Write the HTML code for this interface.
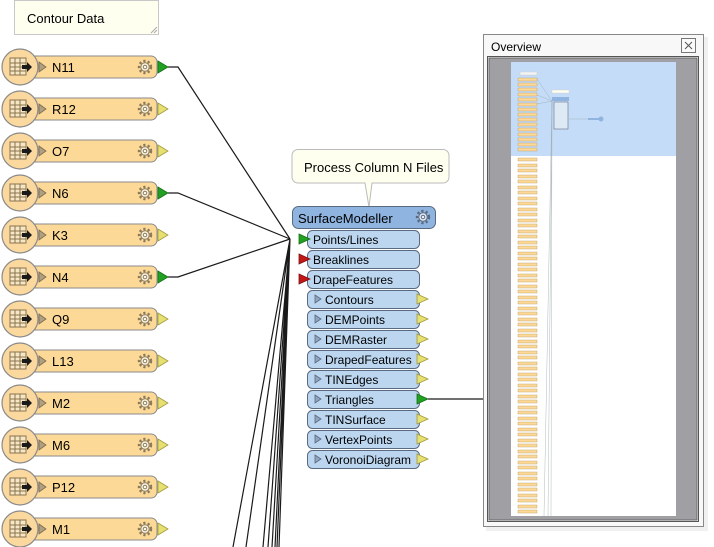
<!DOCTYPE html>
<html><head><meta charset="utf-8"><style>
html,body{margin:0;padding:0;background:#fff;width:714px;height:547px;overflow:hidden}
text{font-family:"Liberation Sans","DejaVu Sans",sans-serif}
</style></head><body>
<svg width="714" height="547" viewBox="0 0 714 547" xmlns="http://www.w3.org/2000/svg">
<defs>
<g id="gear"><circle r="6" fill="none" stroke="#8a7a5a" stroke-width="2.4" stroke-dasharray="2.2 2.2"/><circle r="4.2" fill="#fff8e8" stroke="#8a7a5a" stroke-width="1"/><circle r="1.8" fill="none" stroke="#8a7a5a" stroke-width="1"/></g>
<g id="gearb"><circle r="6" fill="none" stroke="#5a6a80" stroke-width="2.4" stroke-dasharray="2.2 2.2"/><circle r="4.2" fill="#e8f0fa" stroke="#5a6a80" stroke-width="1"/><circle r="1.8" fill="none" stroke="#5a6a80" stroke-width="1"/></g>
<g id="reader">
  <rect x="28" y="-11" width="129" height="22" rx="6" fill="#fdd998" stroke="#8a8a8a" stroke-width="1"/>
  <circle cx="20" cy="0" r="18" fill="#fbd89e" stroke="#8a8a8a" stroke-width="1.2"/>
  <rect x="10" y="-9" width="16" height="17" fill="#f6e6c4" stroke="#8a7550" stroke-width="1"/>
  <path d="M10 -4H26M10 0H26M10 4H26M15 -9V8M20 -9V8" stroke="#8a7550" stroke-width="1"/>
  <path d="M22 -2h5v-3l5 5l-5 5v-3h-5z" fill="#1a1a1a"/>
  <path d="M39 -5l7 5l-7 5z" fill="#b0a080" stroke="#7a6a50" stroke-width="0.8"/>
  <use href="#gear" x="145" y="0"/>
</g>
</defs>

<!-- Contour Data note -->
<rect x="14.5" y="0.5" width="144" height="34" fill="#fffff0" stroke="#c8c8c8"/>
<path d="M151 33L157 27M154 33L157 30" stroke="#aaa" stroke-width="1"/>
<text x="27" y="23" font-size="13" fill="#000">Contour Data</text>

<!-- connectors -->
<g stroke="#1a1a1a" stroke-width="1.2" fill="none">
<path d="M168 67L178 67L290 239"/>
<path d="M168 193L178 193L290 239"/>
<path d="M168 277L178 277L290 239"/>
<path d="M290 239L233 547M290 239L246 547M290 239L263 547M290 239L268 547M290 239L272 547M290 239L275 547M290 239L277 547M290 239L279 547"/>
<path d="M428 399L483 399"/>
</g>

<!-- readers -->
<g font-size="13" fill="#000">
<g transform="translate(0,67)"><use href="#reader"/><text x="52" y="5">N11</text><path d="M158 -6l10 6l-10 6z" fill="#22a022" stroke="#157015" stroke-width="0.8"/></g>
<g transform="translate(0,109)"><use href="#reader"/><text x="52" y="5">R12</text><path d="M158 -6l10 6l-10 6z" fill="#e6e070" stroke="#a09a40" stroke-width="0.8"/></g>
<g transform="translate(0,151)"><use href="#reader"/><text x="52" y="5">O7</text><path d="M158 -6l10 6l-10 6z" fill="#e6e070" stroke="#a09a40" stroke-width="0.8"/></g>
<g transform="translate(0,193)"><use href="#reader"/><text x="52" y="5">N6</text><path d="M158 -6l10 6l-10 6z" fill="#22a022" stroke="#157015" stroke-width="0.8"/></g>
<g transform="translate(0,235)"><use href="#reader"/><text x="52" y="5">K3</text><path d="M158 -6l10 6l-10 6z" fill="#e6e070" stroke="#a09a40" stroke-width="0.8"/></g>
<g transform="translate(0,277)"><use href="#reader"/><text x="52" y="5">N4</text><path d="M158 -6l10 6l-10 6z" fill="#22a022" stroke="#157015" stroke-width="0.8"/></g>
<g transform="translate(0,319)"><use href="#reader"/><text x="52" y="5">Q9</text><path d="M158 -6l10 6l-10 6z" fill="#e6e070" stroke="#a09a40" stroke-width="0.8"/></g>
<g transform="translate(0,361)"><use href="#reader"/><text x="52" y="5">L13</text><path d="M158 -6l10 6l-10 6z" fill="#e6e070" stroke="#a09a40" stroke-width="0.8"/></g>
<g transform="translate(0,403)"><use href="#reader"/><text x="52" y="5">M2</text><path d="M158 -6l10 6l-10 6z" fill="#e6e070" stroke="#a09a40" stroke-width="0.8"/></g>
<g transform="translate(0,445)"><use href="#reader"/><text x="52" y="5">M6</text><path d="M158 -6l10 6l-10 6z" fill="#e6e070" stroke="#a09a40" stroke-width="0.8"/></g>
<g transform="translate(0,487)"><use href="#reader"/><text x="52" y="5">P12</text><path d="M158 -6l10 6l-10 6z" fill="#e6e070" stroke="#a09a40" stroke-width="0.8"/></g>
<g transform="translate(0,529)"><use href="#reader"/><text x="52" y="5">M1</text><path d="M158 -6l10 6l-10 6z" fill="#e6e070" stroke="#a09a40" stroke-width="0.8"/></g>
</g>

<!-- callout -->
<path d="M298 149.5H443a6 6 0 0 1 6 6V177a6 6 0 0 1 -6 6H372L369 207L365 183H298a6 6 0 0 1 -6 -6V155.5a6 6 0 0 1 6 -6z" fill="#fffff0" stroke="#bbbbbb"/>
<text x="304" y="172" font-size="13" fill="#000">Process Column N Files</text>

<!-- SurfaceModeller -->
<rect x="292.5" y="206.5" width="143" height="22" rx="6" fill="#8fb4e0" stroke="#5a6a80"/>
<text x="298" y="223" font-size="13" fill="#000">SurfaceModeller</text>
<use href="#gearb" x="423" y="217"/>
<g font-size="12" fill="#000">
<rect x="307.5" y="230.5" width="112" height="18" rx="5" fill="#bcd6f0" stroke="#5a6a80"/>
<path d="M299 234l11 5l-11 5z" fill="#22a022" stroke="#157015" stroke-width="0.8"/><text x="313" y="244">Points/Lines</text>
<rect x="307.5" y="250.5" width="112" height="18" rx="5" fill="#bcd6f0" stroke="#5a6a80"/>
<path d="M299 254l11 5l-11 5z" fill="#c01818" stroke="#801010" stroke-width="0.8"/><text x="313" y="264">Breaklines</text>
<rect x="307.5" y="270.5" width="112" height="18" rx="5" fill="#bcd6f0" stroke="#5a6a80"/>
<path d="M299 274l11 5l-11 5z" fill="#c01818" stroke="#801010" stroke-width="0.8"/><text x="313" y="284">DrapeFeatures</text>
</g>
<g font-size="12" fill="#000">
<g transform="translate(0,299)"><rect x="307.5" y="-8.5" width="112" height="18" rx="5" fill="#bcd6f0" stroke="#5a6a80"/><path d="M315 -4l6 4l-6 4z" fill="#8fa4c0" stroke="#5a6a80" stroke-width="0.8"/><text x="325" y="5">Contours</text><path d="M417 -5l11 5l-11 5z" fill="#e6e070" stroke="#a09a40" stroke-width="0.8"/></g>
<g transform="translate(0,319)"><rect x="307.5" y="-8.5" width="112" height="18" rx="5" fill="#bcd6f0" stroke="#5a6a80"/><path d="M315 -4l6 4l-6 4z" fill="#8fa4c0" stroke="#5a6a80" stroke-width="0.8"/><text x="325" y="5">DEMPoints</text><path d="M417 -5l11 5l-11 5z" fill="#e6e070" stroke="#a09a40" stroke-width="0.8"/></g>
<g transform="translate(0,339)"><rect x="307.5" y="-8.5" width="112" height="18" rx="5" fill="#bcd6f0" stroke="#5a6a80"/><path d="M315 -4l6 4l-6 4z" fill="#8fa4c0" stroke="#5a6a80" stroke-width="0.8"/><text x="325" y="5">DEMRaster</text><path d="M417 -5l11 5l-11 5z" fill="#e6e070" stroke="#a09a40" stroke-width="0.8"/></g>
<g transform="translate(0,359)"><rect x="307.5" y="-8.5" width="112" height="18" rx="5" fill="#bcd6f0" stroke="#5a6a80"/><path d="M315 -4l6 4l-6 4z" fill="#8fa4c0" stroke="#5a6a80" stroke-width="0.8"/><text x="325" y="5">DrapedFeatures</text><path d="M417 -5l11 5l-11 5z" fill="#e6e070" stroke="#a09a40" stroke-width="0.8"/></g>
<g transform="translate(0,379)"><rect x="307.5" y="-8.5" width="112" height="18" rx="5" fill="#bcd6f0" stroke="#5a6a80"/><path d="M315 -4l6 4l-6 4z" fill="#8fa4c0" stroke="#5a6a80" stroke-width="0.8"/><text x="325" y="5">TINEdges</text><path d="M417 -5l11 5l-11 5z" fill="#e6e070" stroke="#a09a40" stroke-width="0.8"/></g>
<g transform="translate(0,399)"><rect x="307.5" y="-8.5" width="112" height="18" rx="5" fill="#bcd6f0" stroke="#5a6a80"/><path d="M315 -4l6 4l-6 4z" fill="#8fa4c0" stroke="#5a6a80" stroke-width="0.8"/><text x="325" y="5">Triangles</text><path d="M417 -5l11 5l-11 5z" fill="#22a022" stroke="#157015" stroke-width="0.8"/></g>
<g transform="translate(0,419)"><rect x="307.5" y="-8.5" width="112" height="18" rx="5" fill="#bcd6f0" stroke="#5a6a80"/><path d="M315 -4l6 4l-6 4z" fill="#8fa4c0" stroke="#5a6a80" stroke-width="0.8"/><text x="325" y="5">TINSurface</text><path d="M417 -5l11 5l-11 5z" fill="#e6e070" stroke="#a09a40" stroke-width="0.8"/></g>
<g transform="translate(0,439)"><rect x="307.5" y="-8.5" width="112" height="18" rx="5" fill="#bcd6f0" stroke="#5a6a80"/><path d="M315 -4l6 4l-6 4z" fill="#8fa4c0" stroke="#5a6a80" stroke-width="0.8"/><text x="325" y="5">VertexPoints</text><path d="M417 -5l11 5l-11 5z" fill="#e6e070" stroke="#a09a40" stroke-width="0.8"/></g>
<g transform="translate(0,459)"><rect x="307.5" y="-8.5" width="112" height="18" rx="5" fill="#bcd6f0" stroke="#5a6a80"/><path d="M315 -4l6 4l-6 4z" fill="#8fa4c0" stroke="#5a6a80" stroke-width="0.8"/><text x="325" y="5">VoronoiDiagram</text><path d="M417 -5l11 5l-11 5z" fill="#e6e070" stroke="#a09a40" stroke-width="0.8"/></g>
</g>

<!-- Overview panel -->
<rect x="486" y="37" width="222" height="494" fill="#000" opacity="0.06"/>
<rect x="483.5" y="34.5" width="220" height="492" fill="#f8f8f8" stroke="#888"/>
<text x="491" y="51" font-size="12" fill="#000">Overview</text>
<rect x="681.5" y="38.5" width="14" height="14" fill="#fafafa" stroke="#777"/>
<path d="M685 42l7 7M692 42l-7 7" stroke="#555" stroke-width="1"/>
<rect x="487.5" y="56.5" width="211" height="465" fill="#fff" stroke="#555"/>
<rect x="489" y="58" width="208" height="462" fill="#a0a0a4" stroke="#666"/>
<rect x="511" y="62" width="165" height="454" fill="#fff"/>
<rect x="511" y="62" width="165" height="94" fill="#c4dcf8"/>
<g>
<rect x="520" y="72" width="17" height="3" fill="#f4f4f4" stroke="#ccc" stroke-width="0.5"/>
<g stroke="#9aa" stroke-width="0.4" fill="none">
<path d="M537 79L552 101M537 95L552 101M537 104L552 101M552 101L544 516M552 101L548 516M552 101L551 516"/>
<path d="M569 119L601 119"/>
</g>
<rect x="552" y="90" width="17" height="3" fill="#fffff0" stroke="#ccc" stroke-width="0.4"/>
<rect x="552" y="97" width="17" height="4" fill="#8fb4e0"/>
<rect x="554" y="102" width="14" height="27" fill="#ddeaf6" stroke="#556" stroke-width="0.5"/>
<circle cx="601" cy="119" r="2.5" fill="#8fb4e0"/>
<rect x="588" y="118" width="12" height="2" fill="#8fb4e0"/>
</g>
<g fill="#fdd998" stroke="#b89a60" stroke-width="0.4">
<rect x="518" y="78" width="19" height="3"/><rect x="518" y="83" width="19" height="3"/><rect x="518" y="88" width="19" height="3"/><rect x="518" y="93" width="19" height="3"/><rect x="518" y="98" width="19" height="3"/><rect x="518" y="103" width="19" height="3"/><rect x="518" y="108" width="19" height="3"/><rect x="518" y="113" width="19" height="3"/><rect x="518" y="118" width="19" height="3"/><rect x="518" y="123" width="19" height="3"/><rect x="518" y="128" width="19" height="3"/><rect x="518" y="133" width="19" height="3"/><rect x="518" y="138" width="19" height="3"/><rect x="518" y="143" width="19" height="3"/><rect x="518" y="148" width="19" height="3"/>
<rect x="518" y="158" width="19" height="3"/><rect x="518" y="164" width="19" height="3"/><rect x="518" y="169" width="19" height="3"/><rect x="518" y="175" width="19" height="3"/><rect x="518" y="180" width="19" height="3"/><rect x="518" y="186" width="19" height="3"/><rect x="518" y="191" width="19" height="3"/><rect x="518" y="197" width="19" height="3"/><rect x="518" y="202" width="19" height="3"/><rect x="518" y="208" width="19" height="3"/><rect x="518" y="213" width="19" height="3"/><rect x="518" y="219" width="19" height="3"/><rect x="518" y="224" width="19" height="3"/><rect x="518" y="230" width="19" height="3"/><rect x="518" y="235" width="19" height="3"/><rect x="518" y="241" width="19" height="3"/><rect x="518" y="246" width="19" height="3"/><rect x="518" y="252" width="19" height="3"/><rect x="518" y="257" width="19" height="3"/><rect x="518" y="263" width="19" height="3"/><rect x="518" y="268" width="19" height="3"/><rect x="518" y="274" width="19" height="3"/><rect x="518" y="279" width="19" height="3"/><rect x="518" y="285" width="19" height="3"/><rect x="518" y="290" width="19" height="3"/><rect x="518" y="296" width="19" height="3"/><rect x="518" y="301" width="19" height="3"/><rect x="518" y="307" width="19" height="3"/><rect x="518" y="312" width="19" height="3"/><rect x="518" y="318" width="19" height="3"/><rect x="518" y="323" width="19" height="3"/><rect x="518" y="329" width="19" height="3"/><rect x="518" y="334" width="19" height="3"/><rect x="518" y="340" width="19" height="3"/><rect x="518" y="345" width="19" height="3"/><rect x="518" y="351" width="19" height="3"/><rect x="518" y="356" width="19" height="3"/><rect x="518" y="362" width="19" height="3"/><rect x="518" y="367" width="19" height="3"/><rect x="518" y="373" width="19" height="3"/><rect x="518" y="378" width="19" height="3"/><rect x="518" y="384" width="19" height="3"/><rect x="518" y="389" width="19" height="3"/><rect x="518" y="395" width="19" height="3"/><rect x="518" y="400" width="19" height="3"/><rect x="518" y="406" width="19" height="3"/><rect x="518" y="411" width="19" height="3"/><rect x="518" y="417" width="19" height="3"/><rect x="518" y="422" width="19" height="3"/><rect x="518" y="428" width="19" height="3"/><rect x="518" y="433" width="19" height="3"/><rect x="518" y="439" width="19" height="3"/><rect x="518" y="444" width="19" height="3"/><rect x="518" y="450" width="19" height="3"/><rect x="518" y="455" width="19" height="3"/><rect x="518" y="461" width="19" height="3"/><rect x="518" y="466" width="19" height="3"/><rect x="518" y="472" width="19" height="3"/><rect x="518" y="477" width="19" height="3"/><rect x="518" y="483" width="19" height="3"/><rect x="518" y="488" width="19" height="3"/><rect x="518" y="494" width="19" height="3"/><rect x="518" y="499" width="19" height="3"/><rect x="518" y="505" width="19" height="3"/><rect x="518" y="510" width="19" height="3"/>
</g>
</svg>
</body></html>
